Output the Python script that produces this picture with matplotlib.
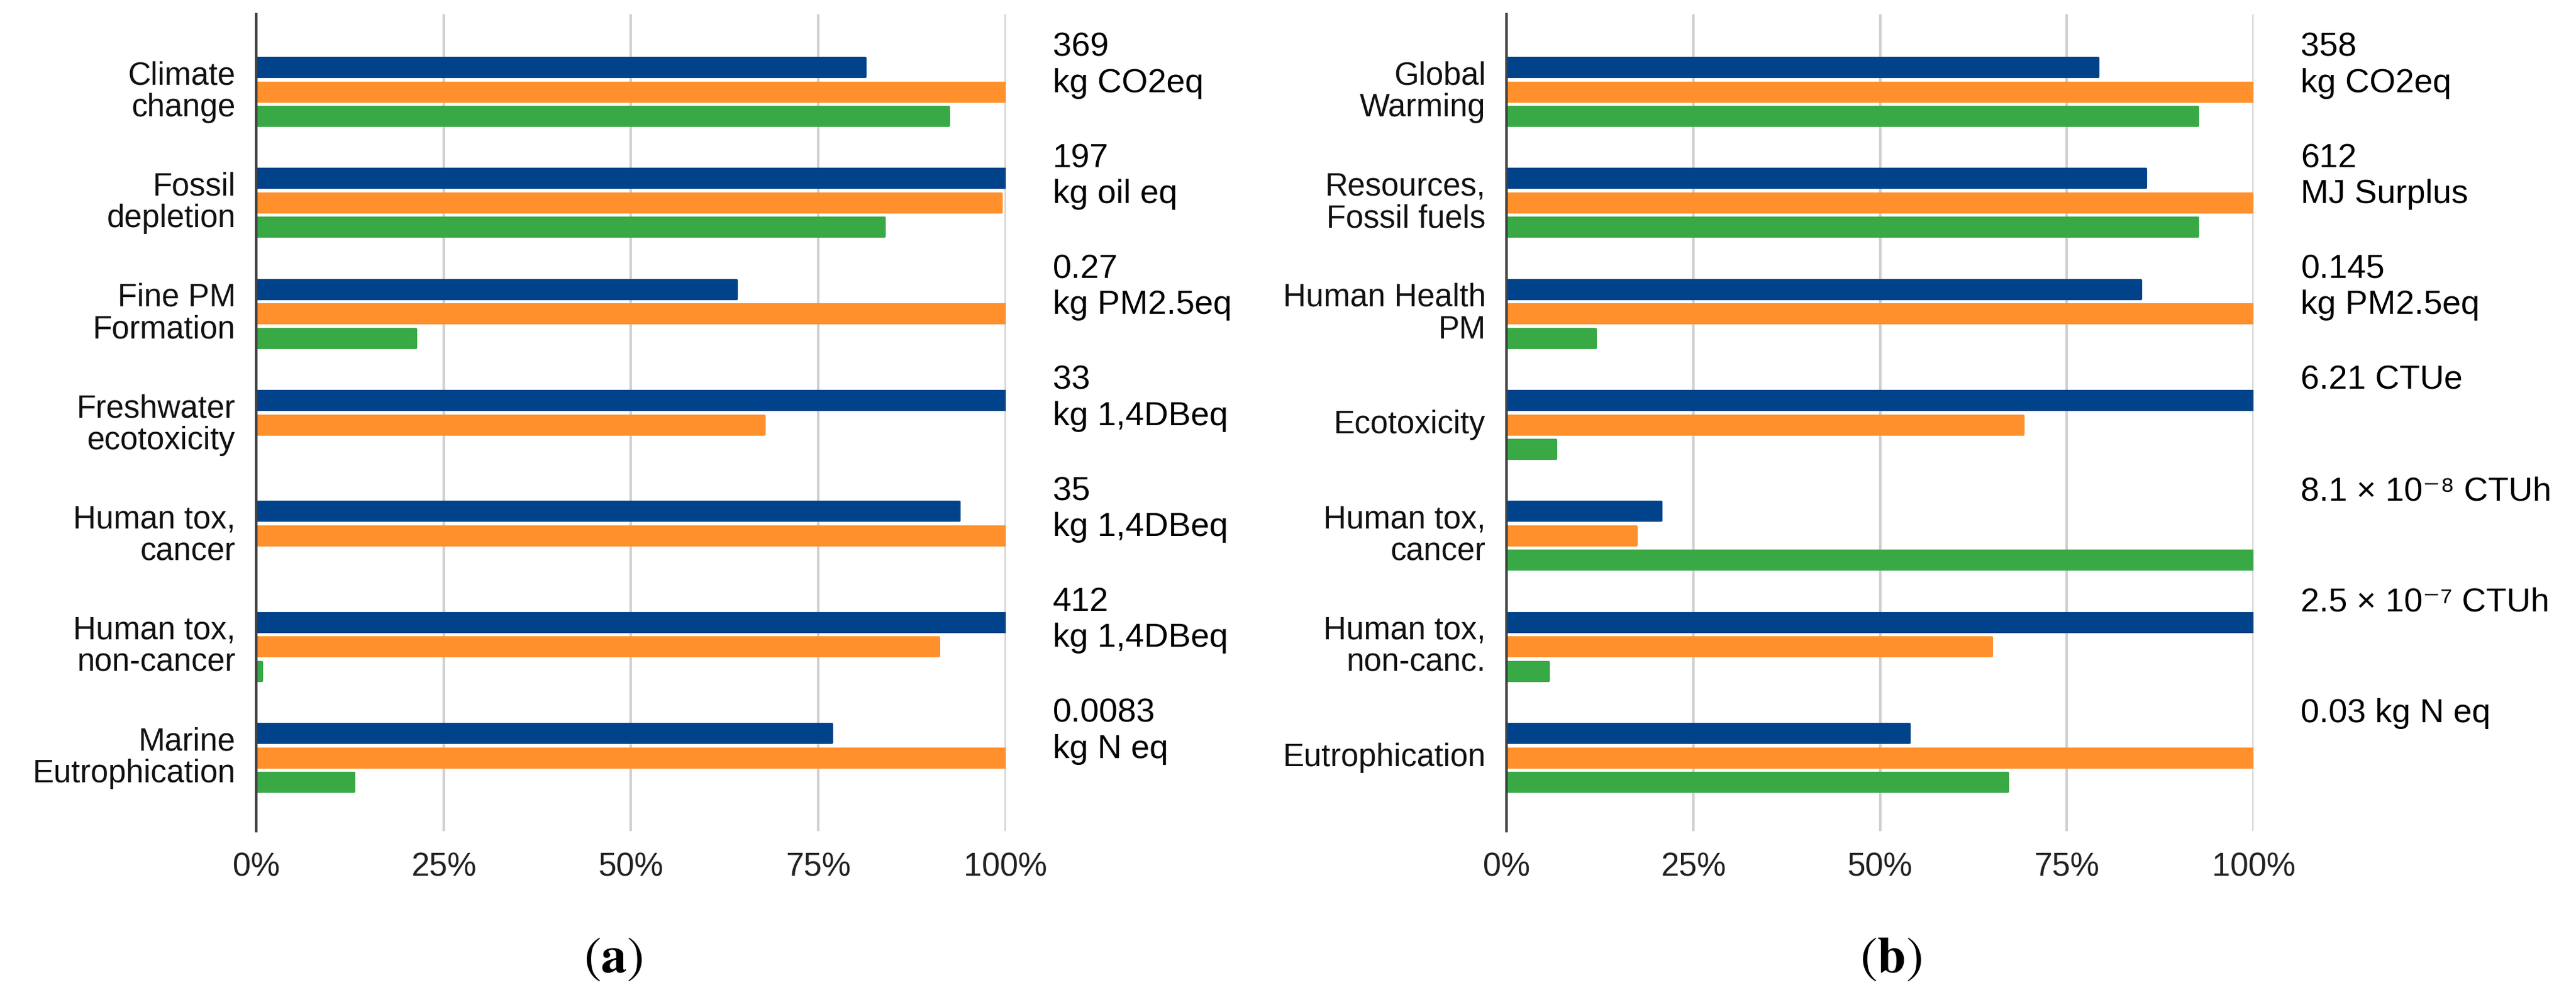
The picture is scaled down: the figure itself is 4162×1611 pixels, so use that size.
import matplotlib
matplotlib.use("Agg")
import matplotlib.pyplot as plt
import numpy as np
from matplotlib.ticker import FuncFormatter

plt.rcParams['font.family'] = ['Liberation Sans', 'DejaVu Sans']
plt.rcParams['mathtext.fontset'] = 'stix'

# ---- data ----
left_cats = ["Climate\nchange", "Fossil\ndepletion", "Fine PM\nFormation",
             "Freshwater\necotoxicity", "Human tox,\ncancer",
             "Human tox,\nnon-cancer", "Marine\nEutrophication"]
left_blue = [81.3, 100, 64.1, 100, 93.8, 100, 76.8]
left_orange = [100, 99.4, 100, 67.8, 100, 91.1, 100]
left_green = [92.4, 83.8, 21.3, 0, 0, 0.7, 13.0]
left_units = ["369\nkg CO2eq", "197\nkg oil eq", "0.27\nkg PM2.5eq",
              "33\nkg 1,4DBeq", "35\nkg 1,4DBeq", "412\nkg 1,4DBeq",
              "0.0083\nkg N eq"]

right_cats = ["Global\nWarming", "Resources,\nFossil fuels", "Human Health\nPM",
              "Ecotoxicity", "Human tox,\ncancer", "Human tox,\nnon-canc.",
              "Eutrophication"]
right_blue = [79.2, 85.6, 84.9, 100, 20.7, 100, 53.9]
right_orange = [100, 100, 100, 69.2, 17.4, 64.9, 100]
right_green = [92.5, 92.5, 11.9, 6.6, 100, 5.6, 67.1]
right_units = ["358\nkg CO2eq", "612\nMJ Surplus", "0.145\nkg PM2.5eq",
               "6.21 CTUe", "8.1 × 10⁻⁸ CTUh", "2.5 × 10⁻⁷ CTUh",
               "0.03 kg N eq"]

xticks = [0, 25, 50, 75, 100]
captions = ["a", "b"]

colors = ["#00438A", "#FF902B", "#39A946"]

fig = plt.figure(figsize=(41.62, 16.11), dpi=100)
axes = [fig.add_axes([0.0995, 0.1664, 0.2909, 0.8193]),
        fig.add_axes([0.5848, 0.1664, 0.2901, 0.8193])]

panels = [(left_cats, left_blue, left_orange, left_green, left_units),
          (right_cats, right_blue, right_orange, right_green, right_units)]

bh = 0.167
off = 0.22
for ax, (cats, b, o, g, units), cap, cx in zip(axes, panels, captions, [0.238, 0.734]):
    y = np.arange(len(cats))
    for vals, dy, c in [(b, -off, colors[0]), (o, 0, colors[1]), (g, off, colors[2])]:
        bars = ax.barh(y + dy, vals, height=bh, color=c, zorder=3)
        for p, v in zip(bars, vals):
            if v > 0:
                p.set_edgecolor(c)
                p.set_linewidth(3)
                p.set_joinstyle('round')
            else:
                p.set_visible(False)
    ax.set_ylim(6.66, -0.7)
    ax.set_xlim(0, 100)
    ax.set_yticks(y)
    ax.set_yticklabels(cats, fontsize=37, linespacing=1.07, ha='right', va='center')
    ax.set_xticks(xticks)
    ax.xaxis.set_major_formatter(FuncFormatter(lambda v, p: f"{v:.0f}%"))
    ax.tick_params(axis='x', labelsize=38, length=0, pad=24, colors='#222222')
    ax.tick_params(axis='y', length=0, pad=24, colors='#111111')
    ax.grid(axis='x', color='#d0d0d0', linewidth=3, zorder=0)
    ax.set_axisbelow(True)
    for s in ['top', 'right', 'bottom']:
        ax.spines[s].set_visible(False)
    ax.spines['left'].set_color('#404040')
    ax.spines['left'].set_linewidth(3)
    ax.spines['left'].set_zorder(5)
    for yi, u in zip(y, units):
        ax.text(106.3, yi - 0.54, u, fontsize=39, ha='left', va='top',
                linespacing=1.2, color='#000000', clip_on=False)
    fig.text(cx, 0.038, r"$(\mathbf{" + cap + r"})$", fontsize=60,
             ha='center', va='center')

fig.savefig("out.png", dpi=100)
